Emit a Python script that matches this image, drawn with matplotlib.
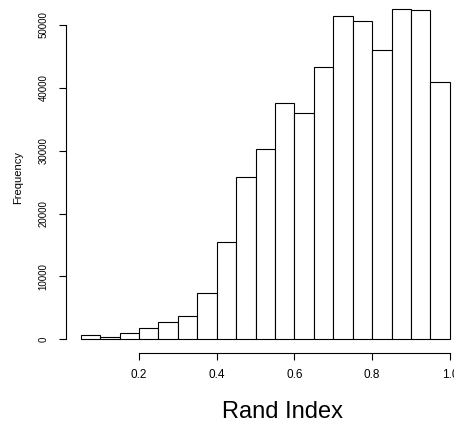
import numpy as np
import matplotlib
matplotlib.use("Agg")
import matplotlib.pyplot as plt

plt.rcParams['font.family'] = ['Liberation Sans', 'DejaVu Sans']

# histogram of Rand Index values, bins of width 0.05
bin_left = [0.05, 0.10, 0.15, 0.20, 0.25, 0.30, 0.35, 0.40, 0.45, 0.50,
            0.55, 0.60, 0.65, 0.70, 0.75, 0.80, 0.85, 0.90, 0.95]
counts = [690, 430, 1070, 1750, 2750, 3710, 7320, 15400, 25750, 30250,
          37530, 36040, 43260, 51380, 50690, 45970, 52600, 52340, 40880]
bin_width = 0.05
x_ticks = [0.2, 0.4, 0.6, 0.8, 1.0]
x_ticklabels = ['0.2', '0.4', '0.6', '0.8', '1.0']
y_ticks = [0, 10000, 20000, 30000, 40000, 50000]

fig = plt.figure(figsize=(4.54, 4.24), dpi=100)
# plot region runs past the right and top edges, like the cropped original
ax = fig.add_axes([66 / 454, (424 - 352.5) / 424, 398.6 / 454, 357 / 424])

ax.bar(bin_left, counts, width=bin_width, align='edge',
       facecolor='white', edgecolor='black', linewidth=0.8)

# R style 4% extension
x0, x1 = bin_left[0], bin_left[-1] + bin_width
dx = (x1 - x0) * 0.04
ax.set_xlim(x0 - dx, x1 + dx)
dy = max(counts) * 0.04
ax.set_ylim(-dy, max(counts) + dy)

for s in ['top', 'right']:
    ax.spines[s].set_visible(False)
ax.spines['left'].set_bounds(y_ticks[0], y_ticks[-1])
ax.spines['bottom'].set_bounds(x_ticks[0], x_ticks[-1])
ax.spines['left'].set_linewidth(0.8)
ax.spines['bottom'].set_linewidth(0.8)

ax.set_xticks(x_ticks)
ax.set_xticklabels(x_ticklabels, fontsize=8.5)
ax.set_yticks(y_ticks)
ax.set_yticklabels([str(v) for v in y_ticks], fontsize=7, rotation=90, va='center')
ax.tick_params(axis='x', direction='out', length=4.7, width=0.8, pad=7)
ax.tick_params(axis='y', direction='out', length=4.7, width=0.8, pad=8)

fig.text(282 / 454, 1 - 411.7 / 424, 'Rand Index', ha='center', va='center', fontsize=17)
fig.text(18 / 454, 1 - 177 / 424, 'Frequency', ha='center', va='center', rotation=90, fontsize=8)

fig.savefig('out.png', dpi=100)
